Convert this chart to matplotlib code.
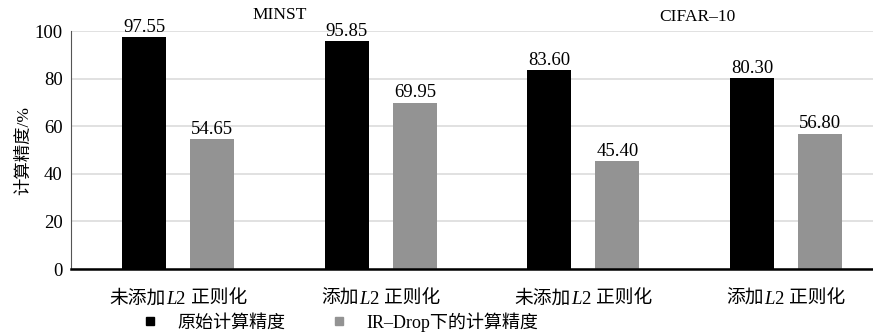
import numpy as np
import matplotlib.pyplot as plt
from matplotlib.lines import Line2D
from matplotlib.offsetbox import TextArea, HPacker, AnnotationBbox

plt.rcParams['font.family'] = ['Liberation Serif', 'Noto Sans CJK SC', 'DejaVu Sans']

# data
groups = ['MINST', 'CIFAR–10']
cat_prefix = ['未添加', '添加', '未添加', '添加']
original = [97.55, 95.85, 83.60, 80.30]
ir_drop = [54.65, 69.95, 45.40, 56.80]
series_names = ['原始计算精度', 'IR–Drop下的计算精度']
yticks = [0, 20, 40, 60, 80, 100]

fig = plt.figure(figsize=(8.73, 3.34), dpi=100)
ax = fig.add_axes([0.0813, 0.1946, 0.9187, 0.7124])

x = np.arange(len(original))
w = 0.217
off = 0.168
b1 = ax.bar(x - off, original, w, color='#000000', label=series_names[0], zorder=3)
b2 = ax.bar(x + off, ir_drop, w, color='#939393', label=series_names[1], zorder=3)

for bars, vals in ((b1, original), (b2, ir_drop)):
    for r, v in zip(bars, vals):
        ax.annotate(f'{v:.2f}', (r.get_x() + r.get_width() / 2, v), xytext=(0, 1),
                    textcoords='offset points', ha='center', va='bottom',
                    fontsize=13.5, annotation_clip=False)

ax.set_xlim(-0.53, 3.43)
ax.set_ylim(0, 100)
ax.set_yticks(yticks)
ax.tick_params(axis='y', length=0, labelsize=13.5, pad=6)
ax.tick_params(axis='x', length=0, labelbottom=False)
ax.grid(axis='y', color='#dcdcdc', linewidth=1.2, zorder=0)
for s in ['top', 'right']:
    ax.spines[s].set_visible(False)
ax.spines['left'].set_color('#555555')
ax.spines['bottom'].set_linewidth(1.8)
ax.spines['bottom'].set_zorder(4)
ax.set_ylabel('计算精度/%', fontsize=12.5, labelpad=2)

# category labels with italic L
for i, p in enumerate(cat_prefix):
    parts = [TextArea(p, textprops=dict(fontsize=13.5, family=['Noto Sans CJK SC'])),
             TextArea('L', textprops=dict(fontsize=13.5, family=['Liberation Serif'], style='italic')),
             TextArea('2 ', textprops=dict(fontsize=13.5, family=['Liberation Serif'])),
             TextArea('正则化', textprops=dict(fontsize=13.5, family=['Noto Sans CJK SC']))]
    box = HPacker(children=parts, align='baseline', pad=0, sep=0)
    ab = AnnotationBbox(box, (i, 0), xybox=(0, -21), xycoords='data',
                        boxcoords='offset points', frameon=False, box_alignment=(0.5, 0.5),
                        annotation_clip=False)
    ax.add_artist(ab)

fig.text(280 / 873, 1 - 15 / 334, groups[0], ha='center', va='center', fontsize=12.5)
fig.text(697 / 873, 1 - 17 / 334, groups[1], ha='center', va='center', fontsize=12.5)

handles = [Line2D([], [], marker='s', color='#000000', linestyle='', markersize=6),
           Line2D([], [], marker='s', color='#939393', linestyle='', markersize=6)]
fig.legend(handles, series_names, loc='center', bbox_to_anchor=(335 / 873, 1 - 322 / 334),
           ncol=2, frameon=False, fontsize=13, handletextpad=0.5, columnspacing=2.0,
           borderaxespad=0, borderpad=0)

fig.savefig('out.png', dpi=100)
